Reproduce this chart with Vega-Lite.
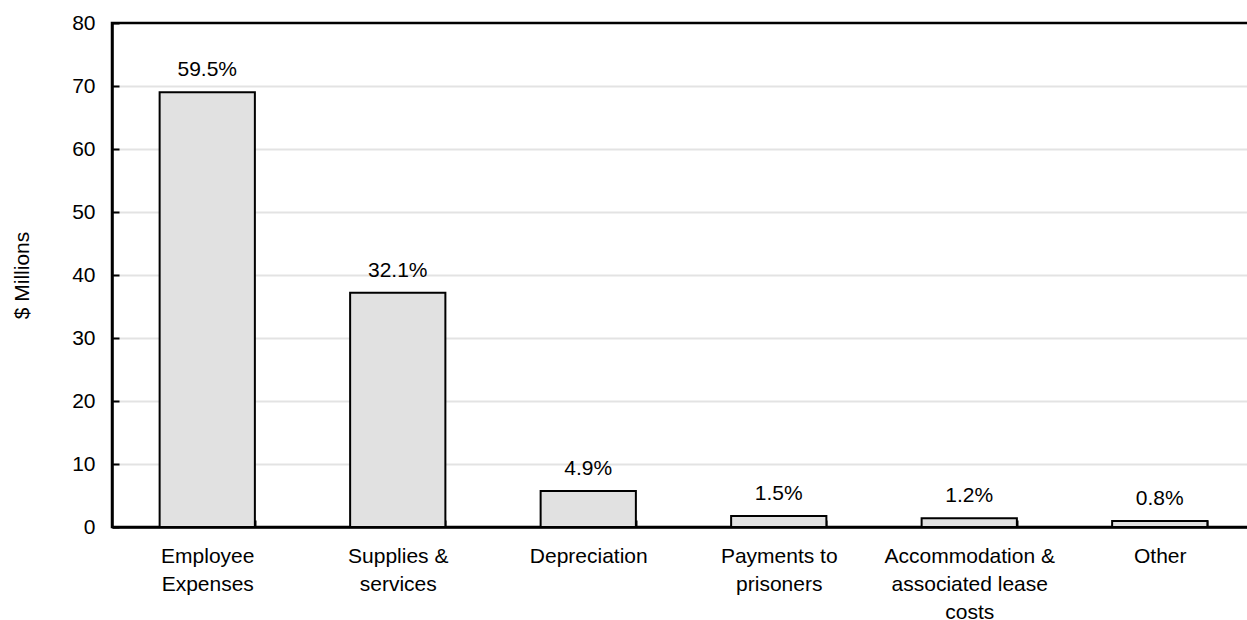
{
  "$schema": "https://vega.github.io/schema/vega-lite/v6.json",
  "autosize": "none",
  "padding": {"left": 112, "top": 23, "right": 0, "bottom": 93},
  "width": 1143,
  "height": 504,
  "background": "white",
  "config": {
    "font": "Liberation Sans",
    "view": {"stroke": "black", "strokeWidth": 2.5}
  },
  "data": {
    "values": [
      {"category": "Employee Expenses", "value": 69.0, "pct": "59.5%"},
      {"category": "Supplies & services", "value": 37.2, "pct": "32.1%"},
      {"category": "Depreciation", "value": 5.7, "pct": "4.9%"},
      {"category": "Payments to prisoners", "value": 1.75, "pct": "1.5%"},
      {"category": "Accommodation & associated lease costs", "value": 1.4, "pct": "1.2%"},
      {"category": "Other", "value": 0.95, "pct": "0.8%"}
    ]
  },
  "encoding": {
    "x": {
      "field": "category",
      "type": "nominal",
      "sort": null,
      "scale": {"paddingInner": 0.5, "paddingOuter": 0.25},
      "axis": {
        "title": null,
        "labelAngle": 0,
        "labelFontSize": 21,
        "labelColor": "black",
        "labelLineHeight": 28,
        "labelPadding": 25,
        "labelLimit": 400,
        "labelExpr": "datum.label == 'Employee Expenses' ? ['Employee', 'Expenses'] : datum.label == 'Supplies & services' ? ['Supplies &', 'services'] : datum.label == 'Payments to prisoners' ? ['Payments to', 'prisoners'] : datum.label == 'Accommodation & associated lease costs' ? ['Accommodation &', 'associated lease', 'costs'] : datum.label",
        "tickBand": "extent",
        "tickSize": -7,
        "tickWidth": 2,
        "tickColor": "black",
        "domainColor": "black",
        "domainWidth": 2.5,
        "grid": false
      }
    },
    "y": {
      "field": "value",
      "type": "quantitative",
      "scale": {"domain": [0, 80], "nice": false},
      "axis": {
        "title": "$ Millions",
        "titleFontSize": 21,
        "titleFontWeight": "normal",
        "titleColor": "black",
        "titleAngle": -90,
        "titleAlign": "center",
        "titleBaseline": "middle",
        "titleX": -90,
        "titleY": 252,
        "values": [0, 10, 20, 30, 40, 50, 60, 70, 80],
        "labelFontSize": 21,
        "labelColor": "black",
        "labelPadding": 24,
        "tickSize": -7,
        "tickWidth": 2,
        "tickColor": "black",
        "domainColor": "black",
        "domainWidth": 2.5,
        "grid": true,
        "gridColor": "#e3e3e3",
        "gridWidth": 2,
        "gridOpacity": {"condition": {"test": "datum.value == 80 || datum.value == 0", "value": 0}, "value": 1}
      }
    }
  },
  "layer": [
    {
      "mark": {"type": "bar", "fill": "#e1e1e1", "stroke": "black", "strokeWidth": 2}
    },
    {
      "mark": {"type": "text", "fontSize": 21, "color": "black", "baseline": "alphabetic", "dy": -16},
      "encoding": {"text": {"field": "pct"}}
    }
  ]
}
